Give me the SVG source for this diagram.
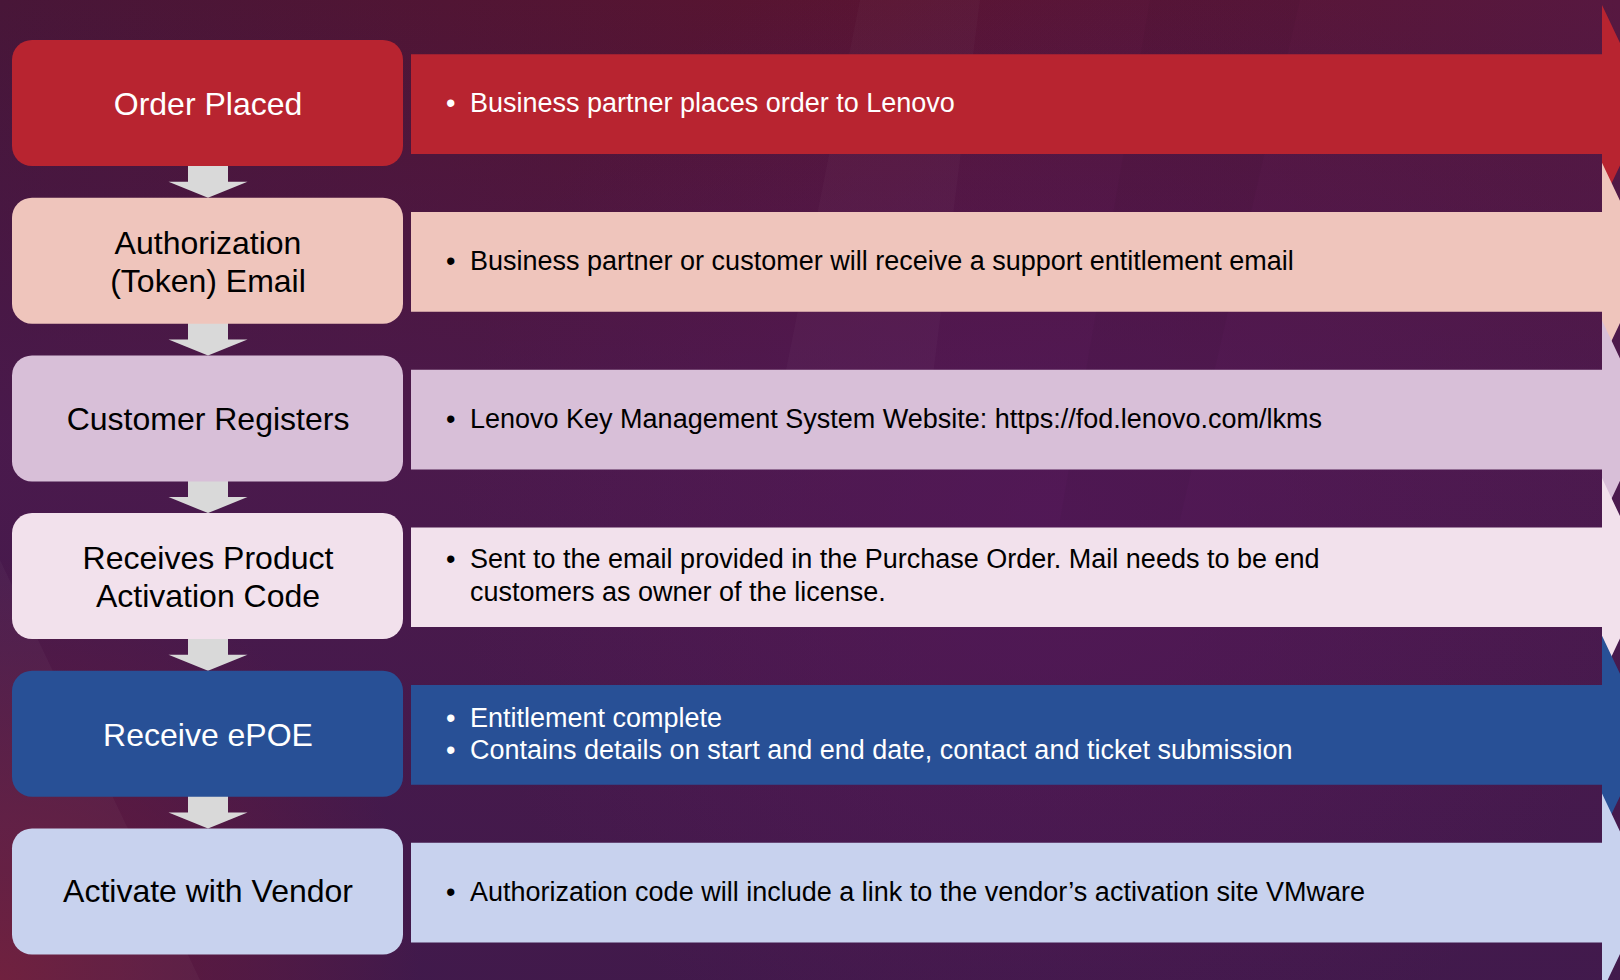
<svg xmlns="http://www.w3.org/2000/svg" width="1620" height="980" viewBox="0 0 1620 980">
<defs>
<linearGradient id="bgH" x1="0" y1="0" x2="1" y2="0">
<stop offset="0" stop-color="#481638"/>
<stop offset="0.55" stop-color="#5A1430"/>
<stop offset="1" stop-color="#571840"/>
</linearGradient>
<linearGradient id="bgV" x1="0" y1="0" x2="0" y2="1">
<stop offset="0" stop-color="#45184E" stop-opacity="0"/>
<stop offset="0.45" stop-color="#4A1A50" stop-opacity="0.85"/>
<stop offset="1" stop-color="#3F1A4E" stop-opacity="0.9"/>
</linearGradient>
<radialGradient id="bgBL" cx="0" cy="980" r="420" gradientUnits="userSpaceOnUse">
<stop offset="0" stop-color="#6E1A38" stop-opacity="0.95"/>
<stop offset="1" stop-color="#6E1A38" stop-opacity="0"/>
</radialGradient>
<radialGradient id="bgMid" cx="1050" cy="520" r="600" gradientUnits="userSpaceOnUse">
<stop offset="0" stop-color="#54185A" stop-opacity="0.7"/>
<stop offset="1" stop-color="#54185A" stop-opacity="0"/>
</radialGradient>
<style>
.box{stroke:none}
.lbl{font-family:"Liberation Sans",Arial,sans-serif;font-size:32px;text-anchor:middle}
.txt{font-family:"Liberation Sans",Arial,sans-serif;font-size:27px}
.w{fill:#FFFFFF}
.k{fill:#000000}
.arr{fill:#D9D9D9}
</style>
</defs>
<rect x="0" y="0" width="1620" height="980" fill="url(#bgH)"/>
<rect x="0" y="0" width="1620" height="980" fill="url(#bgV)"/>
<rect x="0" y="0" width="1620" height="980" fill="url(#bgMid)"/>
<rect x="0" y="0" width="1620" height="980" fill="url(#bgBL)"/>
<polygon points="860,0 980,0 930,400 780,400" fill="#FFFFFF" opacity="0.025"/>
<polygon points="1150,0 1300,0 1180,520 1060,520" fill="#000000" opacity="0.03"/>
<polygon points="0,560 200,980 0,980" fill="#FFFFFF" opacity="0.03"/>

<g id="connectors">
<polygon class="arr" points="188,165 228,165 228,181.7 247.5,181.7 208,197.7 168.5,181.7 188,181.7"/>
<polygon class="arr" points="188,322.7 228,322.7 228,339.4 247.5,339.4 208,355.4 168.5,339.4 188,339.4"/>
<polygon class="arr" points="188,480.4 228,480.4 228,497.1 247.5,497.1 208,513.1 168.5,497.1 188,497.1"/>
<polygon class="arr" points="188,638.1 228,638.1 228,654.8 247.5,654.8 208,670.8 168.5,654.8 188,654.8"/>
<polygon class="arr" points="188,795.8 228,795.8 228,812.5 247.5,812.5 208,828.5 168.5,812.5 188,812.5"/>
</g>

<g id="node-order-placed">
<polygon points="411,54.3 1602,54.3 1602,5 1649,104.2 1602,203.4 1602,154 411,154" fill="#B82430"/>
<rect class="box" x="12" y="40" width="391" height="126" rx="20" fill="#B82430"/>
<text class="lbl w" x="208" y="115">Order Placed</text>
<text class="txt w" x="446" y="112.2">•<tspan x="470">Business partner places order to Lenovo</tspan></text>
</g>

<g id="node-authorization">
<polygon points="411,212 1602,212 1602,162.7 1649,261.9 1602,361.1 1602,311.7 411,311.7" fill="#EFC5BC"/>
<rect class="box" x="12" y="197.7" width="391" height="126" rx="20" fill="#EFC5BC"/>
<text class="lbl k" x="208" y="253.5">Authorization</text>
<text class="lbl k" x="208" y="291.9">(Token) Email</text>
<text class="txt k" x="446" y="269.9">•<tspan x="470">Business partner or customer will receive a support entitlement email</tspan></text>
</g>

<g id="node-customer-registers">
<polygon points="411,369.7 1602,369.7 1602,320.4 1649,419.6 1602,518.8 1602,469.4 411,469.4" fill="#D8BFD8"/>
<rect class="box" x="12" y="355.4" width="391" height="126" rx="20" fill="#D8BFD8"/>
<text class="lbl k" x="208" y="430.4">Customer Registers</text>
<text class="txt k" x="446" y="427.6">•<tspan x="470">Lenovo Key Management System Website: https://fod.lenovo.com/lkms</tspan></text>
</g>

<g id="node-activation-code">
<polygon points="411,527.4 1602,527.4 1602,478.1 1649,577.3 1602,676.5 1602,627.1 411,627.1" fill="#F2E1EC"/>
<rect class="box" x="12" y="513.1" width="391" height="126" rx="20" fill="#F2E1EC"/>
<text class="lbl k" x="208" y="568.9">Receives Product</text>
<text class="lbl k" x="208" y="607.3">Activation Code</text>
<text class="txt k" x="446" y="567.5">•<tspan x="470">Sent to the email provided in the Purchase Order. Mail needs to be end</tspan></text>
<text class="txt k" x="470" y="600.5">customers as owner of the license.</text>
</g>

<g id="node-receive-epoe">
<polygon points="411,685.1 1602,685.1 1602,635.8 1649,735 1602,834.2 1602,784.8 411,784.8" fill="#285096"/>
<rect class="box" x="12" y="670.8" width="391" height="126" rx="20" fill="#285096"/>
<text class="lbl w" x="208" y="745.6">Receive ePOE</text>
<text class="txt w" x="446" y="726.8">•<tspan x="470">Entitlement complete</tspan></text>
<text class="txt w" x="446" y="759">•<tspan x="470">Contains details on start and end date, contact and ticket submission</tspan></text>
</g>

<g id="node-activate-vendor">
<polygon points="411,842.8 1602,842.8 1602,793.5 1649,892.7 1602,991.9 1602,942.5 411,942.5" fill="#C8D2EE"/>
<rect class="box" x="12" y="828.5" width="391" height="126" rx="20" fill="#C8D2EE"/>
<text class="lbl k" x="208" y="902.3">Activate with Vendor</text>
<text class="txt k" x="446" y="900.7">•<tspan x="470">Authorization code will include a link to the vendor’s activation site VMware</tspan></text>
</g>
</svg>
